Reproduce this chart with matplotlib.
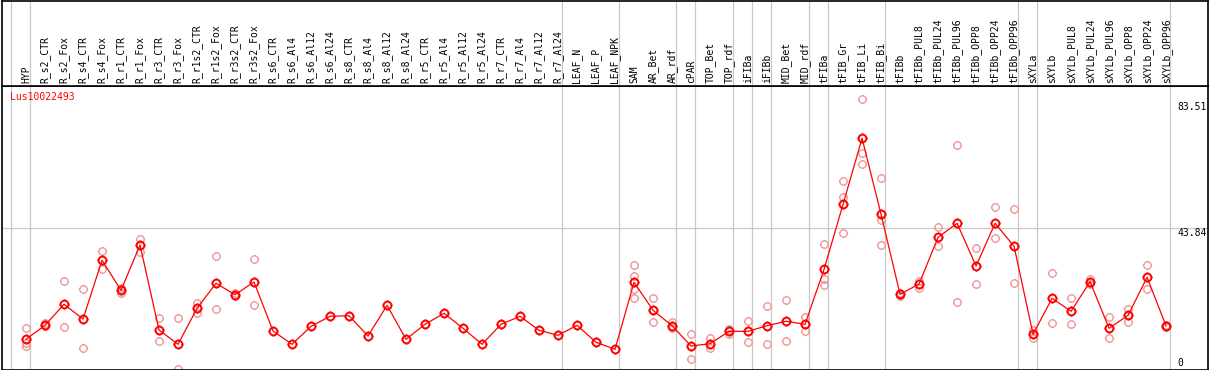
import matplotlib
matplotlib.use("Agg")
import matplotlib.pyplot as plt
from matplotlib.path import Path

samples = ["HYP", "R_s2_CTR", "R_s2_Fox", "R_s4_CTR", "R_s4_Fox", "R_r1_CTR", "R_r1_Fox",
           "R_r3_CTR", "R_r3_Fox", "R_r1s2_CTR", "R_r1s2_Fox", "R_r3s2_CTR", "R_r3s2_Fox",
           "R_s6_CTR", "R_s6_Al4", "R_s6_Al12", "R_s6_Al24", "R_s8_CTR", "R_s8_Al4",
           "R_s8_Al12", "R_s8_Al24", "R_r5_CTR", "R_r5_Al4", "R_r5_Al12", "R_r5_Al24",
           "R_r7_CTR", "R_r7_Al4", "R_r7_Al12", "R_r7_Al24", "LEAF_N", "LEAF_P", "LEAF_NPK",
           "SAM", "AR_Bet", "AR_rdf", "cPAR", "TOP_Bet", "TOP_rdf", "iFIBa", "iFIBb",
           "MID_Bet", "MID_rdf", "tFIBa", "tFIB_Gr", "tFIB_Li", "tFIB_Bi", "tFIBb",
           "tFIBb_PUL8", "tFIBb_PUL24", "tFIBb_PUL96", "tFIBb_OPP8", "tFIBb_OPP24",
           "tFIBb_OPP96", "sXYLa", "sXYLb", "sXYLb_PUL8", "sXYLb_PUL24", "sXYLb_PUL96",
           "sXYLb_OPP8", "sXYLb_OPP24", "sXYLb_OPP96"]

means = [9.72, 14.01, 20.45, 15.94, 33.94, 24.74, 38.63, 12.57, 8.19, 19.22, 26.89, 23.39,
         27.28, 12.26, 8.19, 13.70, 16.77, 16.95, 10.73, 20.14, 9.72, 14.32, 17.69, 13.09,
         8.19, 14.32, 16.77, 12.48, 10.94, 14.01, 8.80, 6.65, 27.19, 18.61, 13.89, 7.66,
         8.37, 12.17, 12.17, 13.89, 15.24, 14.32, 31.18, 51.10, 71.34, 48.04, 23.51, 26.67,
         40.99, 45.28, 32.19, 45.28, 38.23, 11.25, 22.29, 18.30, 27.38, 13.09, 17.08,
         28.72, 13.80]

replicates = [[13.1, 8.5, 7.8], [14.8, 13.8], [27.6, 13.4], [25.1, 7.0], [36.8, 31.2],
              [24.0, 25.5], [40.5, 36.6], [16.3, 9.1], [16.2, 0.6], [20.9, 17.7],
              [35.2, 18.9], [23.0, 23.8], [34.2, 20.1],
              [], [], [], [], [], [], [], [], [], [], [], [], [], [], [], [], [], [], [],
              [32.5, 29.1, 25.1, 22.3], [22.3, 14.9], [14.9, 13.1], [11.3, 3.6],
              [10.0, 7.1], [12.9, 11.3], [15.3, 8.8], [19.8, 8.2], [21.8, 9.1],
              [16.6, 12.2], [38.8, 28.3, 26.3], [58.3, 53.4, 42.2], [83.51, 66.7, 63.5],
              [59.1, 46.2, 38.6], [23.0, 24.0], [27.7, 25.4], [44.1, 38.2], [69.3, 21.1],
              [37.6, 26.6], [50.2, 40.7], [49.6, 26.9], [12.6, 10.0], [30.0, 14.6],
              [22.3, 14.3], [28.1, 26.7], [16.5, 10.0], [19.0, 15.1], [32.4, 25.1],
              [13.5, 14.1]]

# group boundaries (after these sample positions)
group_ends = [0, 1, 29, 32, 35, 36, 38, 39, 40, 42, 43, 46, 53, 54, 61]
gene = "Lus10022493"
ymax_label = 83.51
ymid_label = 43.84

# circle marker with four short ticks
circ = Path.unit_circle()
verts = list(circ.vertices)
codes = list(circ.codes)
for a, b in [((1, 0), (1.25, 0)), ((-1, 0), (-1.25, 0)), ((0, 1), (0, 1.25)), ((0, -1), (0, -1.25))]:
    verts += [a, b]
    codes += [Path.MOVETO, Path.LINETO]
gear = Path(verts, codes)

W, H = 1209, 370
fig = plt.figure(figsize=(W / 100, H / 100), dpi=100)
mono = "DejaVu Sans Mono"

xl = (-0.29, 63.18)
ax = fig.add_axes([1.5 / W, 0.5 / H, 1206 / W, 283.5 / H])
hd = fig.add_axes([1.5 / W, 284 / H, 1206 / W, 85.5 / H])

for a in (ax, hd):
    a.set_xlim(*xl)
    a.set_xticks([])
    a.set_yticks([])
    for s in a.spines.values():
        s.set_color("black")
        s.set_linewidth(1.2)
    for g in group_ends:
        a.axvline(g + 0.21, color="#c8c8c8", lw=0.9, zorder=0)

hd.set_ylim(0, 1)
xs = list(range(1, len(samples) + 1))
for x, name in zip(xs, samples):
    hd.text(x, 0.03, name, rotation=90, ha="center", va="bottom",
            fontsize=7, family=mono, color="black")

ax.set_ylim(0.46, 87.37)
ax.axhline(ymid_label, color="#c8c8c8", lw=0.9, zorder=0)

rx, ry = [], []
for x, reps in zip(xs, replicates):
    for r in reps:
        rx.append(x)
        ry.append(r)
ax.plot(rx, ry, linestyle="none", marker=gear, markersize=6.6, mfc="none",
        mec="#ee9a9a", mew=1.0, zorder=2)
ax.plot(xs, means, color="red", lw=0.9, marker=gear, markersize=7.0, mfc="none",
        mec="red", mew=1.4, zorder=3)

ax.text(0.007, 0.949, gene, transform=ax.transAxes, color="red", fontsize=7,
        family=mono, ha="left", va="baseline")

ax.text(61.6, 80.0, f"{ymax_label:.2f}", fontsize=7, family=mono, ha="left", va="baseline")
ax.text(61.6, 41.4, f"{ymid_label:.2f}", fontsize=7, family=mono, ha="left", va="baseline")
ax.text(61.6, 1.6, "0", fontsize=7, family=mono, ha="left", va="baseline")

fig.savefig("out.png", dpi=100)
